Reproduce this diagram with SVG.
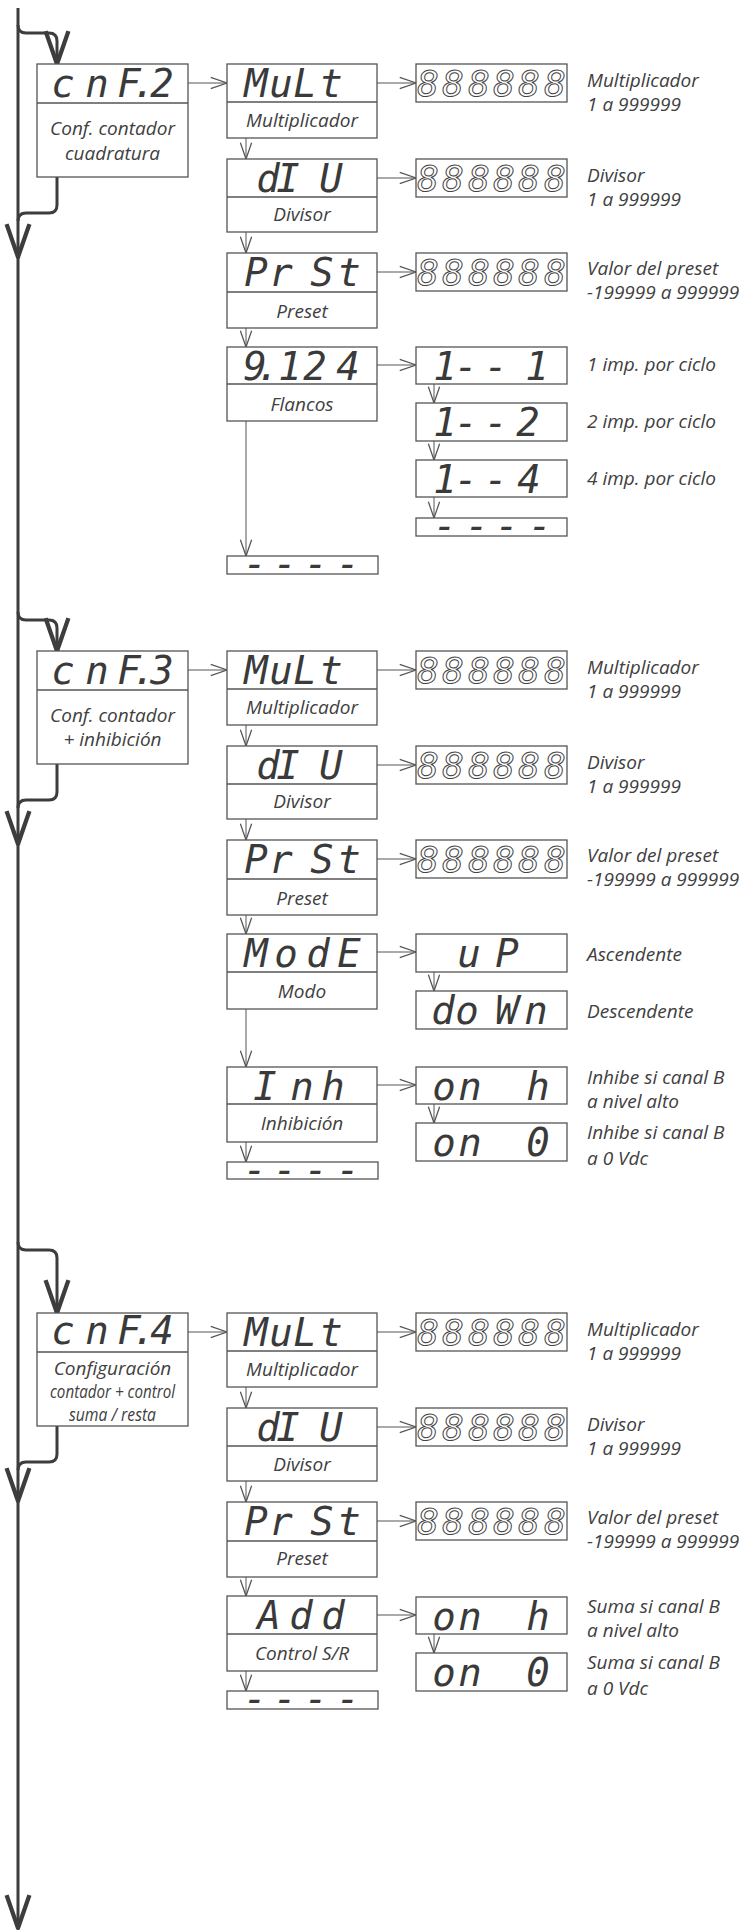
<svg xmlns="http://www.w3.org/2000/svg" width="742" height="1930" viewBox="0 0 742 1930">
<style>
.bx{fill:#fff;stroke:#555;stroke-width:1.3}
.dv{stroke:#555;stroke-width:1.3}
.seg{font-family:"DejaVu Sans Mono",monospace;font-style:oblique;font-size:39px;fill:#3a3a3a;text-anchor:middle}
.dig{font-family:"DejaVu Sans Mono",monospace;font-style:oblique;font-size:36px;fill:none;stroke:#444;stroke-width:1;text-anchor:middle}
.lb{font-family:"Open Sans","Liberation Sans",sans-serif;font-style:italic;font-size:19px;fill:#404040;text-anchor:middle}
.rl{font-family:"Open Sans","Liberation Sans",sans-serif;font-style:italic;font-size:19px;fill:#404040}
.thin{fill:none;stroke:#555;stroke-width:1;marker-end:url(#ah)}
.thick{fill:none;stroke:#3d3d3d;stroke-width:3;marker-end:url(#AH)}
.thick2{fill:none;stroke:#3d3d3d;stroke-width:3}
</style>
<defs>
<marker id="ah" markerUnits="userSpaceOnUse" markerWidth="20" markerHeight="20" viewBox="-14 -6 16 12" refX="0" refY="0" orient="auto" overflow="visible">
<path d="M-13,-4.5 L0,0 L-13,4.5" fill="none" stroke="#555" stroke-width="1"/>
</marker>
<marker id="AH" markerUnits="userSpaceOnUse" markerWidth="40" markerHeight="40" viewBox="-26 -10 28 20" refX="0" refY="0" orient="auto" overflow="visible">
<path d="M-23,-8 L0,0 L-23,8" fill="none" stroke="#3d3d3d" stroke-width="3" stroke-linejoin="round"/>
</marker>
</defs>
<rect width="742" height="1930" fill="#fff"/>

<g id="connectors">
<path class="thick" d="M18,8 V257"/>
<path class="thick" d="M18,257 V844"/>
<path class="thick" d="M18,844 V1501"/>
<path class="thick" d="M18,1501 V1928"/>
<path class="thick" d="M18,25 Q18,33 26,33 H49 Q57,33 57,41 V64"/>
<path class="thick2" d="M57,177 V205 Q57,213 49,213 H26 Q18,213 18,221"/>
<path class="thick" d="M18,612 Q18,620 26,620 H49 Q57,620 57,628 V651"/>
<path class="thick2" d="M57,764 V792 Q57,800 49,800 H26 Q18,800 18,808"/>
<path class="thick" d="M18,1242 Q18,1250 26,1250 H49 Q57,1250 57,1258 V1313"/>
<path class="thick2" d="M57,1426 V1454 Q57,1462 49,1462 H26 Q18,1462 18,1470"/>

<path class="thin" d="M188,83 H227"/>
<path class="thin" d="M377,83 H416"/>
<path class="thin" d="M377,178 H416"/>
<path class="thin" d="M377,272 H416"/>
<path class="thin" d="M377,365 H416"/>
<path class="thin" d="M246,138 V159"/>
<path class="thin" d="M246,232 V253"/>
<path class="thin" d="M246,328 V347"/>
<path class="thin" d="M246,421 V556"/>
<path class="thin" d="M434,384 V403"/>
<path class="thin" d="M434,441 V460"/>
<path class="thin" d="M434,497 V518"/>

<path class="thin" d="M188,670 H227"/>
<path class="thin" d="M377,670 H416"/>
<path class="thin" d="M377,765 H416"/>
<path class="thin" d="M377,859 H416"/>
<path class="thin" d="M377,952 H416"/>
<path class="thin" d="M377,1085 H416"/>
<path class="thin" d="M246,725 V746"/>
<path class="thin" d="M246,819 V840"/>
<path class="thin" d="M246,915 V934"/>
<path class="thin" d="M246,1009 V1067"/>
<path class="thin" d="M246,1142 V1162"/>
<path class="thin" d="M434,972 V991"/>
<path class="thin" d="M434,1104 V1123"/>

<path class="thin" d="M188,1332 H227"/>
<path class="thin" d="M377,1332 H416"/>
<path class="thin" d="M377,1427 H416"/>
<path class="thin" d="M377,1521 H416"/>
<path class="thin" d="M377,1615 H416"/>
<path class="thin" d="M246,1387 V1408"/>
<path class="thin" d="M246,1481 V1502"/>
<path class="thin" d="M246,1577 V1596"/>
<path class="thin" d="M246,1671 V1691"/>
<path class="thin" d="M434,1634 V1653"/>
</g>

<!-- Section 1 -->
<g id="cnf2">
<rect class="bx" x="37" y="64" width="151" height="113"/>
<line class="dv" x1="37" y1="103" x2="188" y2="103"/>
<text class="seg" x="63 97 129 144 162" y="97">cnF.2</text>
<text class="lb" x="112.5" y="135">Conf. contador</text>
<text class="lb" x="112.5" y="160">cuadratura</text>
</g>
<g id="s1-mult">
<rect class="bx" x="227" y="64" width="150" height="74"/>
<line class="dv" x1="227" y1="102" x2="377" y2="102"/>
<text class="seg" x="256 281 305 331" y="97">MuLt</text>
<text class="lb" x="302" y="127">Multiplicador</text>
</g>
<g id="s1-mult-val">
<rect class="bx" x="416" y="64" width="151" height="38"/>
<text class="dig" x="428 453 479 504 529 555" y="96">888888</text>
<text class="rl" x="587" y="87">Multiplicador</text>
<text class="rl" x="587" y="111">1 a 999999</text>
</g>
<g id="s1-div">
<rect class="bx" x="227" y="159" width="150" height="73"/>
<line class="dv" x1="227" y1="197" x2="377" y2="197"/>
<text class="seg" x="268 288 306 331" y="192">dI U</text>
<text class="lb" x="302" y="221">Divisor</text>
</g>
<g id="s1-div-val">
<rect class="bx" x="416" y="159" width="151" height="38"/>
<text class="dig" x="428 453 479 504 529 555" y="191">888888</text>
<text class="rl" x="587" y="182">Divisor</text>
<text class="rl" x="587" y="206">1 a 999999</text>
</g>
<g id="s1-prst">
<rect class="bx" x="227" y="253" width="150" height="75"/>
<line class="dv" x1="227" y1="292" x2="377" y2="292"/>
<text class="seg" x="256 281 322 349" y="286">PrSt</text>
<text class="lb" x="302" y="318">Preset</text>
</g>
<g id="s1-prst-val">
<rect class="bx" x="416" y="253" width="151" height="38"/>
<text class="dig" x="428 453 479 504 529 555" y="285">888888</text>
<text class="rl" x="587" y="275">Valor del preset</text>
<text class="rl" x="587" y="299">-199999 a 999999</text>
</g>
<g id="s1-flancos">
<rect class="bx" x="227" y="347" width="150" height="74"/>
<line class="dv" x1="227" y1="384" x2="377" y2="384"/>
<text class="seg" x="255 268 290 315 348" y="380">9.124</text>
<text class="lb" x="302" y="411">Flancos</text>
</g>
<g id="s1-f1">
<rect class="bx" x="416" y="347" width="151" height="37"/>
<text class="seg" x="445 466 496 537" y="380">1--1</text>
<text class="rl" x="587" y="371">1 imp. por ciclo</text>
</g>
<g id="s1-f2">
<rect class="bx" x="416" y="403" width="151" height="38"/>
<text class="seg" x="445 466 496 528" y="436">1--2</text>
<text class="rl" x="587" y="428">2 imp. por ciclo</text>
</g>
<g id="s1-f4">
<rect class="bx" x="416" y="460" width="151" height="37"/>
<text class="seg" x="445 466 496 529" y="493">1--4</text>
<text class="rl" x="587" y="485">4 imp. por ciclo</text>
</g>
<g id="s1-fend">
<rect class="bx" x="416" y="518" width="151" height="18"/>
<text class="seg" x="445 477 507 540" y="539">----</text>
</g>
<g id="s1-end">
<rect class="bx" x="227" y="556" width="151" height="18"/>
<text class="seg" x="255 285 316 348" y="577">----</text>
</g>

<!-- Section 2 -->
<g id="cnf3">
<rect class="bx" x="37" y="651" width="151" height="113"/>
<line class="dv" x1="37" y1="690" x2="188" y2="690"/>
<text class="seg" x="63 97 129 144 162" y="684">cnF.3</text>
<text class="lb" x="112.5" y="722">Conf. contador</text>
<text class="lb" x="112.5" y="746">+ inhibición</text>
</g>
<g id="s2-mult">
<rect class="bx" x="227" y="651" width="150" height="74"/>
<line class="dv" x1="227" y1="689" x2="377" y2="689"/>
<text class="seg" x="256 281 305 331" y="684">MuLt</text>
<text class="lb" x="302" y="714">Multiplicador</text>
</g>
<g id="s2-mult-val">
<rect class="bx" x="416" y="651" width="151" height="38"/>
<text class="dig" x="428 453 479 504 529 555" y="683">888888</text>
<text class="rl" x="587" y="674">Multiplicador</text>
<text class="rl" x="587" y="698">1 a 999999</text>
</g>
<g id="s2-div">
<rect class="bx" x="227" y="746" width="150" height="73"/>
<line class="dv" x1="227" y1="784" x2="377" y2="784"/>
<text class="seg" x="268 288 306 331" y="779">dI U</text>
<text class="lb" x="302" y="808">Divisor</text>
</g>
<g id="s2-div-val">
<rect class="bx" x="416" y="746" width="151" height="38"/>
<text class="dig" x="428 453 479 504 529 555" y="778">888888</text>
<text class="rl" x="587" y="769">Divisor</text>
<text class="rl" x="587" y="793">1 a 999999</text>
</g>
<g id="s2-prst">
<rect class="bx" x="227" y="840" width="150" height="75"/>
<line class="dv" x1="227" y1="879" x2="377" y2="879"/>
<text class="seg" x="256 281 322 349" y="873">PrSt</text>
<text class="lb" x="302" y="905">Preset</text>
</g>
<g id="s2-prst-val">
<rect class="bx" x="416" y="840" width="151" height="38"/>
<text class="dig" x="428 453 479 504 529 555" y="872">888888</text>
<text class="rl" x="587" y="862">Valor del preset</text>
<text class="rl" x="587" y="886">-199999 a 999999</text>
</g>
<g id="s2-mode">
<rect class="bx" x="227" y="934" width="150" height="75"/>
<line class="dv" x1="227" y1="972" x2="377" y2="972"/>
<text class="seg" x="256 286 318 349" y="967">ModE</text>
<text class="lb" x="302" y="998">Modo</text>
</g>
<g id="s2-up">
<rect class="bx" x="416" y="934" width="151" height="38"/>
<text class="seg" x="469 507" y="967">uP</text>
<text class="rl" x="587" y="961">Ascendente</text>
</g>
<g id="s2-down">
<rect class="bx" x="416" y="991" width="151" height="38"/>
<text class="seg" x="443 467 507 536" y="1024">doWn</text>
<text class="rl" x="587" y="1018">Descendente</text>
</g>
<g id="s2-inh">
<rect class="bx" x="227" y="1067" width="150" height="75"/>
<line class="dv" x1="227" y1="1104" x2="377" y2="1104"/>
<text class="seg" x="265 302 333" y="1100">Inh</text>
<text class="lb" x="302" y="1130">Inhibición</text>
</g>
<g id="s2-onh">
<rect class="bx" x="416" y="1067" width="151" height="37"/>
<text class="seg" x="444 470 504 538" y="1100">on h</text>
<text class="rl" x="587" y="1084">Inhibe si canal B</text>
<text class="rl" x="587" y="1108">a nivel alto</text>
</g>
<g id="s2-on0">
<rect class="bx" x="416" y="1123" width="151" height="38"/>
<text class="seg" x="444 470 504 538" y="1156">on 0</text>
<text class="rl" x="587" y="1139">Inhibe si canal B</text>
<text class="rl" x="587" y="1165">a 0 Vdc</text>
</g>
<g id="s2-end">
<rect class="bx" x="227" y="1162" width="151" height="17"/>
<text class="seg" x="255 285 316 348" y="1183">----</text>
</g>

<!-- Section 3 -->
<g id="cnf4">
<rect class="bx" x="37" y="1313" width="151" height="113"/>
<line class="dv" x1="37" y1="1352" x2="188" y2="1352"/>
<text class="seg" x="63 97 129 144 162" y="1344">cnF.4</text>
<text class="lb" x="112.5" y="1375" font-size="18.5">Configuración</text>
<text class="lb" x="112.5" y="1398" font-size="18.5" textLength="125" lengthAdjust="spacingAndGlyphs">contador + control</text>
<text class="lb" x="112.5" y="1421" font-size="18.5" textLength="87" lengthAdjust="spacingAndGlyphs">suma / resta</text>
</g>
<g id="s3-mult">
<rect class="bx" x="227" y="1313" width="150" height="74"/>
<line class="dv" x1="227" y1="1351" x2="377" y2="1351"/>
<text class="seg" x="256 281 305 331" y="1346">MuLt</text>
<text class="lb" x="302" y="1376">Multiplicador</text>
</g>
<g id="s3-mult-val">
<rect class="bx" x="416" y="1313" width="151" height="38"/>
<text class="dig" x="428 453 479 504 529 555" y="1345">888888</text>
<text class="rl" x="587" y="1336">Multiplicador</text>
<text class="rl" x="587" y="1360">1 a 999999</text>
</g>
<g id="s3-div">
<rect class="bx" x="227" y="1408" width="150" height="73"/>
<line class="dv" x1="227" y1="1446" x2="377" y2="1446"/>
<text class="seg" x="268 288 306 331" y="1441">dI U</text>
<text class="lb" x="302" y="1471">Divisor</text>
</g>
<g id="s3-div-val">
<rect class="bx" x="416" y="1408" width="151" height="38"/>
<text class="dig" x="428 453 479 504 529 555" y="1440">888888</text>
<text class="rl" x="587" y="1431">Divisor</text>
<text class="rl" x="587" y="1455">1 a 999999</text>
</g>
<g id="s3-prst">
<rect class="bx" x="227" y="1502" width="150" height="75"/>
<line class="dv" x1="227" y1="1541" x2="377" y2="1541"/>
<text class="seg" x="256 281 322 349" y="1535">PrSt</text>
<text class="lb" x="302" y="1565">Preset</text>
</g>
<g id="s3-prst-val">
<rect class="bx" x="416" y="1502" width="151" height="38"/>
<text class="dig" x="428 453 479 504 529 555" y="1534">888888</text>
<text class="rl" x="587" y="1524">Valor del preset</text>
<text class="rl" x="587" y="1548">-199999 a 999999</text>
</g>
<g id="s3-add">
<rect class="bx" x="227" y="1596" width="150" height="75"/>
<line class="dv" x1="227" y1="1634" x2="377" y2="1634"/>
<text class="seg" x="269 301 333" y="1629">Add</text>
<text class="lb" x="302" y="1660">Control S/R</text>
</g>
<g id="s3-onh">
<rect class="bx" x="416" y="1597" width="151" height="37"/>
<text class="seg" x="444 470 504 538" y="1630">on h</text>
<text class="rl" x="587" y="1613">Suma si canal B</text>
<text class="rl" x="587" y="1637">a nivel alto</text>
</g>
<g id="s3-on0">
<rect class="bx" x="416" y="1653" width="151" height="38"/>
<text class="seg" x="444 470 504 538" y="1686">on 0</text>
<text class="rl" x="587" y="1669">Suma si canal B</text>
<text class="rl" x="587" y="1695">a 0 Vdc</text>
</g>
<g id="s3-end">
<rect class="bx" x="227" y="1691" width="151" height="18"/>
<text class="seg" x="255 285 316 348" y="1712">----</text>
</g>
</svg>
